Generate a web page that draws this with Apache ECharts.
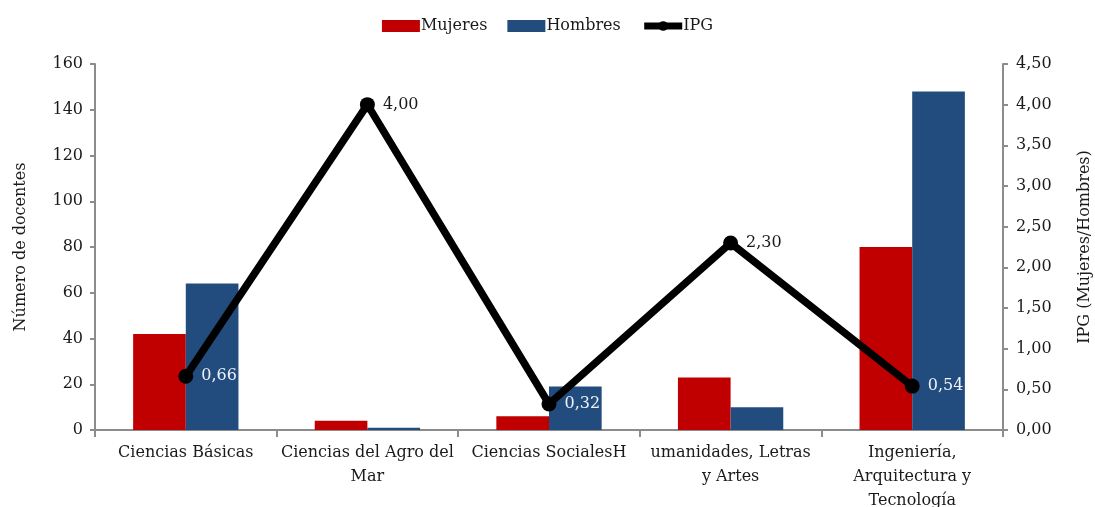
<!DOCTYPE html>
<html>
<head>
<meta charset="utf-8">
<script src="https://cdn.jsdelivr.net/npm/echarts@6/dist/echarts.min.js"></script>
<style>
  html, body { margin: 0; padding: 0; background: #fff; }
  #chart { width: 1095px; height: 507px; }
</style>
</head>
<body>
<div id="chart"></div>
<script>
// Áreas de conocimiento
const categories = [
  'Ciencias Básicas',
  'Ciencias del Agro del\nMar',
  'Ciencias SocialesH',
  'umanidades, Letras\ny Artes',
  'Ingeniería,\nArquitectura y\nTecnología'
];
// Número de docentes por sexo
const mujeres = [42, 4, 6, 23, 80];
const hombres = [64, 1, 19, 10, 148];
// Índice de paridad de género (Mujeres/Hombres)
const ipg = [0.66, 4.00, 0.32, 2.30, 0.54];
// Color de cada etiqueta del IPG (sobre barra azul o sobre fondo blanco)
const ipgLabelColors = ['#eef2f8', '#1a1a1a', '#eef2f8', '#1a1a1a', '#eef2f8'];

const FONT = '"DejaVu Serif", "Liberation Serif", serif';
const FS = 16;
const comma = v => v.toFixed(2).replace('.', ',');

const chart = echarts.init(document.getElementById('chart'), null, { renderer: 'canvas' });
chart.setOption({
  animation: false,
  textStyle: { fontFamily: FONT, color: '#1a1a1a' },
  legend: {
    top: 13,
    left: 'center',
    itemGap: 20,
    itemWidth: 38,
    itemHeight: 12,
    textStyle: { fontFamily: FONT, fontSize: FS, color: '#1a1a1a', padding: [0, 0, 0, -4] },
    data: [
      { name: 'Mujeres', icon: 'rect' },
      { name: 'Hombres', icon: 'rect' },
      { name: 'IPG', lineStyle: { width: 7 } }
    ]
  },
  grid: { left: 95, right: 92, top: 64, bottom: 77, outerBoundsMode: 'none', containLabel: false },
  xAxis: {
    type: 'category',
    data: categories,
    axisLine: { lineStyle: { color: '#8c8c8c', width: 2 } },
    axisTick: { show: true, length: 7, lineStyle: { color: '#8c8c8c', width: 2 } },
    axisLabel: {
      interval: 0,
      margin: 11,
      fontFamily: FONT,
      fontSize: FS,
      color: '#1a1a1a',
      lineHeight: 24
    }
  },
  yAxis: [
    {
      type: 'value',
      min: 0,
      max: 160,
      interval: 20,
      name: 'Número de docentes',
      nameLocation: 'middle',
      nameGap: 66,
      nameTextStyle: { fontFamily: FONT, fontSize: FS, color: '#1a1a1a' },
      axisLine: { show: true, lineStyle: { color: '#8c8c8c', width: 2 } },
      axisTick: { show: true, length: 5, lineStyle: { color: '#8c8c8c', width: 2 } },
      splitLine: { show: false },
      axisLabel: { fontFamily: FONT, fontSize: FS, color: '#1a1a1a', margin: 12 }
    },
    {
      type: 'value',
      min: 0,
      max: 4.5,
      interval: 0.5,
      name: 'IPG (Mujeres/Hombres)',
      nameLocation: 'middle',
      nameGap: 74,
      nameRotate: 90,
      nameTextStyle: { fontFamily: FONT, fontSize: FS, color: '#1a1a1a' },
      axisLine: { show: true, lineStyle: { color: '#8c8c8c', width: 2 } },
      axisTick: { show: true, length: 5, lineStyle: { color: '#8c8c8c', width: 2 } },
      splitLine: { show: false },
      axisLabel: { fontFamily: FONT, fontSize: FS, color: '#1a1a1a', margin: 13, formatter: comma }
    }
  ],
  series: [
    {
      name: 'Mujeres',
      type: 'bar',
      yAxisIndex: 0,
      data: mujeres,
      itemStyle: { color: '#C00000' },
      barGap: '0%',
      barCategoryGap: '42%'
    },
    {
      name: 'Hombres',
      type: 'bar',
      yAxisIndex: 0,
      data: hombres,
      itemStyle: { color: '#234C7E' },
      barGap: '0%',
      barCategoryGap: '42%'
    },
    {
      name: 'IPG',
      type: 'line',
      yAxisIndex: 1,
      z: 5,
      data: ipg.map((v, i) => ({
        value: v,
        label: { color: ipgLabelColors[i] }
      })),
      symbol: 'circle',
      symbolSize: 15,
      lineStyle: { color: '#000', width: 7.5 },
      itemStyle: { color: '#000' },
      label: {
        show: true,
        position: 'right',
        distance: 8,
        fontFamily: FONT,
        fontSize: FS,
        formatter: p => comma(p.value)
      }
    }
  ]
});
</script>
</body>
</html>
